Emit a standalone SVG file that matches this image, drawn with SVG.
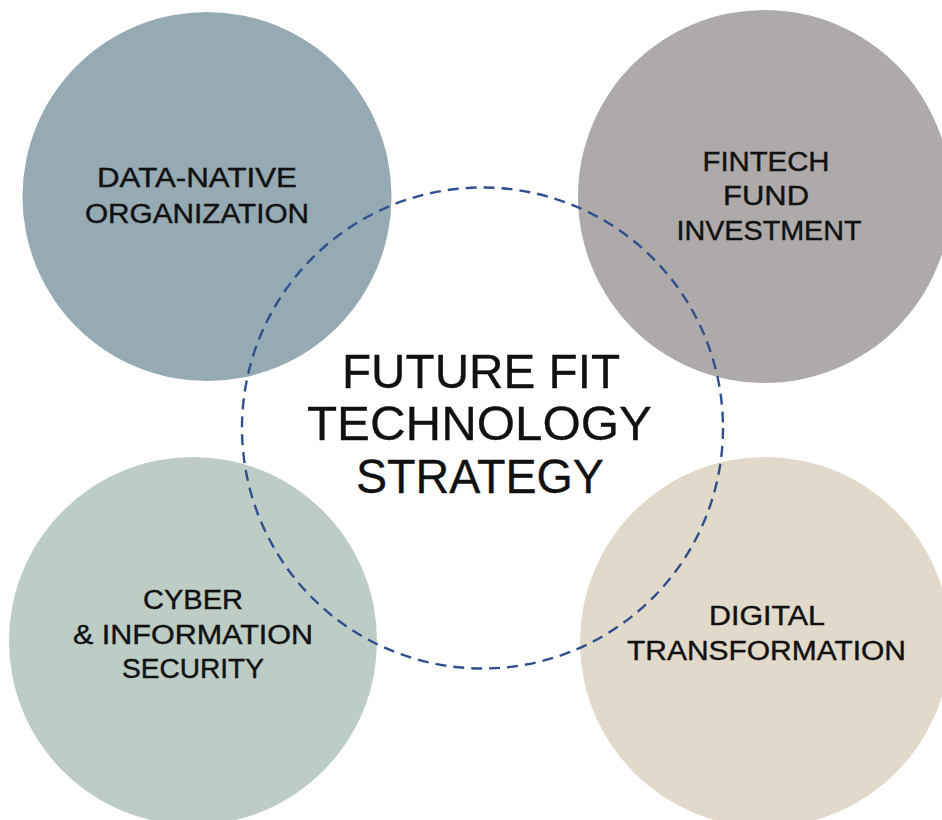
<svg xmlns="http://www.w3.org/2000/svg" width="942" height="820" viewBox="0 0 942 820">
<style>
.lbl{font-family:"Liberation Sans",Arial,sans-serif;font-size:27px;fill:#111;stroke:#111;stroke-width:0.4;text-anchor:middle}
.ttl{font-family:"Liberation Sans",Arial,sans-serif;font-size:49px;fill:#111;stroke:#111;stroke-width:0.3;text-anchor:middle}
.ring{fill:none;stroke:#2f4f8f;stroke-width:2.4;stroke-dasharray:11 7}
</style>
<rect width="942" height="820" fill="#fff"/>
<g id="node-data-native">
<circle cx="207" cy="196.5" r="184.5" fill="#95aab2"/>
<text class="lbl" x="197" y="187" textLength="200" lengthAdjust="spacingAndGlyphs">DATA-NATIVE</text>
<text class="lbl" x="197" y="223" textLength="224" lengthAdjust="spacingAndGlyphs">ORGANIZATION</text>
</g>
<g id="node-fintech">
<circle cx="764.5" cy="196.5" r="186.5" fill="#adaaa9"/>
<text class="lbl" x="766" y="171" textLength="127" lengthAdjust="spacingAndGlyphs">FINTECH</text>
<text class="lbl" x="766" y="205" textLength="86" lengthAdjust="spacingAndGlyphs">FUND</text>
<text class="lbl" x="769" y="240" textLength="185" lengthAdjust="spacingAndGlyphs">INVESTMENT</text>
</g>
<g id="node-cyber">
<circle cx="193" cy="641" r="184" fill="#bdcdc6"/>
<text class="lbl" x="193" y="609" textLength="100" lengthAdjust="spacingAndGlyphs">CYBER</text>
<text class="lbl" x="193" y="644" textLength="240" lengthAdjust="spacingAndGlyphs">&amp; INFORMATION</text>
<text class="lbl" x="193" y="678" textLength="142" lengthAdjust="spacingAndGlyphs">SECURITY</text>
</g>
<g id="node-digital">
<circle cx="765" cy="642" r="185" fill="#e1dacb"/>
<text class="lbl" x="767" y="625" textLength="116" lengthAdjust="spacingAndGlyphs">DIGITAL</text>
<text class="lbl" x="766.5" y="660" textLength="279" lengthAdjust="spacingAndGlyphs">TRANSFORMATION</text>
</g>
<g id="connectors">
<circle class="ring" cx="482.5" cy="428" r="240.5"/>
</g>
<g id="node-center">
<text class="ttl" x="481" y="388" textLength="278" lengthAdjust="spacingAndGlyphs">FUTURE FIT</text>
<text class="ttl" x="479.5" y="440" textLength="345" lengthAdjust="spacingAndGlyphs">TECHNOLOGY</text>
<text class="ttl" x="480" y="493" textLength="248" lengthAdjust="spacingAndGlyphs">STRATEGY</text>
</g>
</svg>
